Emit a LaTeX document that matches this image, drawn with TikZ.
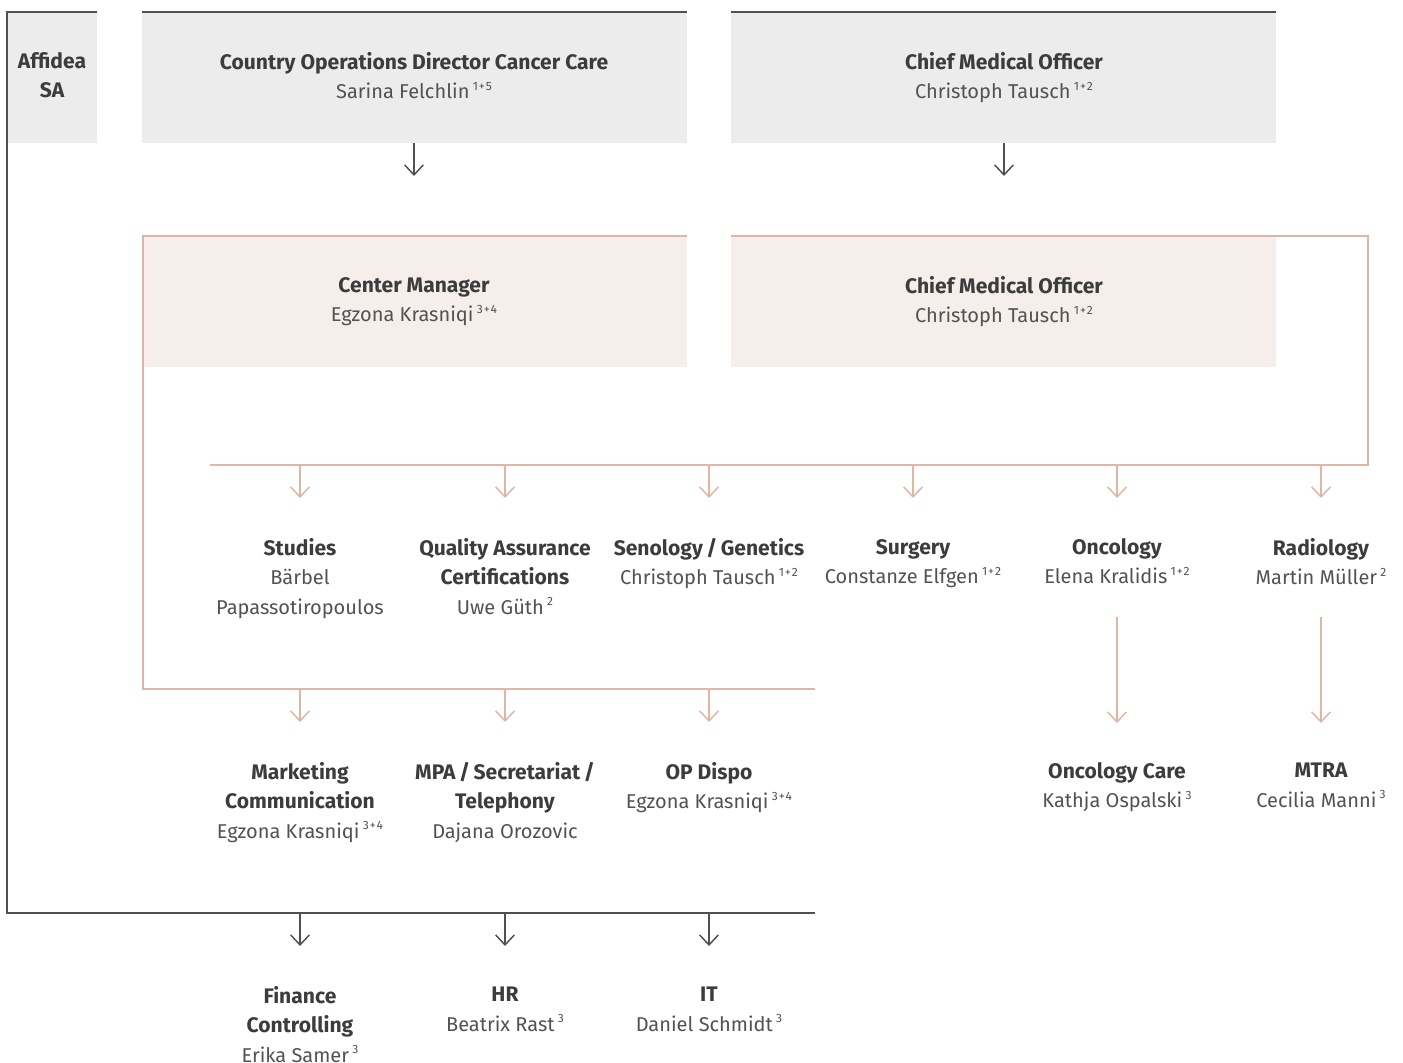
\documentclass[tikz,border=0pt]{standalone}
\usepackage{fontspec}
\setmainfont{Fira Sans}
\usetikzlibrary{arrows.meta}
\definecolor{greyfill}{HTML}{EBECEB}
\definecolor{pinkfill}{HTML}{F6EEEB}
\definecolor{darkc}{HTML}{505050}
\definecolor{pinkc}{HTML}{DDB6A6}
\definecolor{titlec}{HTML}{3C3C3C}
\definecolor{namec}{HTML}{525252}
\newcommand\supx[1]{\,\raisebox{0.42em}{\fontsize{9}{9}\selectfont #1}}
\newcommand\pl{\kern.7pt+\kern.7pt}
\newcommand\nm[1]{{\fontsize{15}{22}\fontseries{m}\selectfont\color{namec}#1}}
\tikzset{
  greybox/.style={fill=greyfill,draw=none,inner sep=0},
  pinkbox/.style={fill=pinkfill,draw=none,inner sep=0},
  dline/.style={draw=darkc,line width=1.4pt},
  pline/.style={draw=pinkc,line width=1.4pt},
  darr/.style={draw=darkc,line width=1.1pt,-{Straight Barb[length=7.5pt,width=14pt,line width=1.1pt]}},
  parr/.style={draw=pinkc,line width=1.1pt,-{Straight Barb[length=7.5pt,width=14pt,line width=1.1pt]}},
  lab/.style={align=center,anchor=north,inner sep=0,text=titlec,font=\fontsize{15.8}{22}\selectfont\bfseries}
}
\begin{document}
\begin{tikzpicture}[x=0.75pt,y=-0.75pt]
\useasboundingbox (0,0) rectangle (1403,1063);
% grey boxes
\path[greybox] (7,12) rectangle (97,143);
\path[greybox] (142,12) rectangle (687,143);
\path[greybox] (731,12) rectangle (1276,143);
\node[lab] (aff) at (52,52) {Affidea\\SA};
\node[lab] (cod) at (414,52) {Country Operations Director Cancer Care\\\nm{Sarina Felchlin\supx{1\pl5}}};
\node[lab] (cmo1) at (1004,52) {Chief Medical Officer\\\nm{Christoph Tausch\supx{1\pl2}}};
\coordinate (codb) at (414,143);
\coordinate (cmo1b) at (1004,143);
% pink boxes
\path[pinkbox] (142,236) rectangle (687,367);
\path[pinkbox] (731,236) rectangle (1276,367);
\node[lab] (cm) at (414,277) {Center Manager\\\nm{Egzona Krasniqi\supx{3\pl4}}};
\node[lab] (cmo2) at (1004,276) {Chief Medical Officer\\\nm{Christoph Tausch\supx{1\pl2}}};
% dark frame lines
\draw[dline] (97,12) -- (7,12) -- (7,913) -- (815,913);
\draw[dline] (142,12) -- (687,12);
\draw[dline] (731,12) -- (1276,12);
% pink frame lines
\draw[pline] (687,236) -- (143,236) -- (143,689) -- (815,689);
\draw[pline] (731,236) -- (1368,236) -- (1368,465) -- (210,465);
% dark arrows from top boxes
\draw[darr] (codb) -- ++(0,33);
\draw[darr] (cmo1b) -- ++(0,33);
% bus coordinates
\coordinate (busA) at (0,465);
\coordinate (busB) at (0,689);
\coordinate (busC) at (0,913);
% row 1
\node[lab] (s1) at (300,538) {Studies\\\nm{Bärbel}\\\nm{Papassotiropoulos}};
\node[lab] (s2) at (505,538) {Quality Assurance\\Certifications\\\nm{Uwe Güth\supx{2}}};
\node[lab] (s3) at (709,538) {Senology\,/\,Genetics\\\nm{Christoph Tausch\supx{1\pl2}}};
\node[lab] (s4) at (913,539) {Surgery\\\nm{Constanze Elfgen\supx{1\pl2}}};
\node[lab] (s5) at (1117,538) {Oncology\\\nm{Elena Kralidis\supx{1\pl2}}};
\node[lab] (s6) at (1321,538) {Radiology\\\nm{Martin Müller\supx{2}}};
\foreach \n in {s1,s2,s3,s4,s5,s6} \draw[parr] (\n |- busA) -- ++(0,33);
% row 2
\node[lab] (m1) at (300,762) {Marketing\\Communication\\\nm{Egzona Krasniqi\supx{3\pl4}}};
\node[lab] (m2) at (505,762) {MPA\,/\,Secretariat\,/\\Telephony\\\nm{Dajana Orozovic}};
\node[lab] (m3) at (709,762) {OP Dispo\\\nm{Egzona Krasniqi\supx{3\pl4}}};
\node[lab] (oc) at (1117,762) {Oncology Care\\\nm{Kathja Ospalski\supx{3}}};
\node[lab] (mt) at (1321,763) {MTRA\\\nm{Cecilia Manni\supx{3}}};
\foreach \n in {m1,m2,m3} \draw[parr] (\n |- busB) -- ++(0,33);
\coordinate (oct) at (1117,617);
\coordinate (rat) at (1321,617);
\draw[parr] (s5 |- oct) -- (oc.north |- 0,723);
\draw[parr] (s6 |- rat) -- (mt.north |- 0,723);
% row 3
\node[lab] (f1) at (300,986) {Finance\\Controlling\\\nm{Erika Samer\supx{3}}};
\node[lab] (f2) at (505,987) {HR\\\nm{Beatrix Rast\supx{3}}};
\node[lab] (f3) at (709,987) {IT\\\nm{Daniel Schmidt\supx{3}}};
\foreach \n in {f1,f2,f3} \draw[darr] (\n |- busC) -- ++(0,33);
\end{tikzpicture}
\end{document}
